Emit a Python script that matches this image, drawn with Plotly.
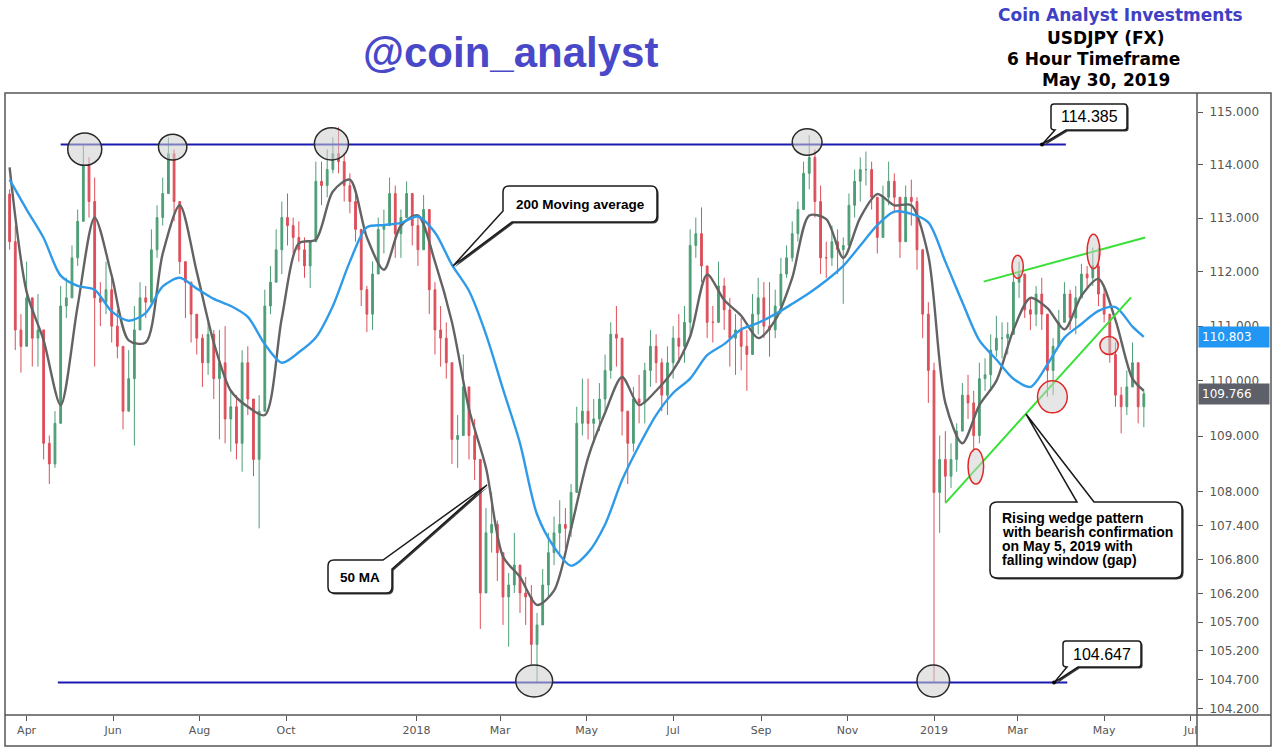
import math
import pandas as pd
import plotly.graph_objects as go

start_date = "2017-03-20"
bar_step = "4D"
first_open = 113.45

close = [
    112.56, 110.93, 110.63, 111.52, 110.78, 110.93, 108.87, 108.50, 109.23, 111.37,
    111.52, 112.26, 112.94, 113.99, 113.31, 111.52, 111.44, 111.67, 111.00, 110.63,
    109.45, 110.04, 110.93, 111.52, 111.44, 112.41, 113.01, 113.46, 114.21, 113.31,
    112.19, 111.81, 111.22, 110.78, 110.33, 110.85, 110.04, 110.33, 109.31, 109.53,
    108.87, 110.33, 109.67, 108.58, 109.45, 111.37, 111.81, 112.41, 113.01, 112.86,
    112.64, 112.41, 112.11, 112.56, 113.69, 113.61, 113.91, 114.21, 114.06, 113.61,
    113.31, 112.79, 111.67, 111.22, 111.96, 112.79, 112.86, 113.46, 112.71, 113.01,
    113.46, 112.86, 112.41, 113.16, 111.67, 110.93, 110.78, 110.33, 108.94, 109.01,
    109.89, 109.01, 108.58, 106.21, 107.27, 107.42, 106.92, 106.14, 106.35, 106.70,
    106.21, 106.14, 105.31, 105.65, 106.35, 106.92, 107.27, 107.42, 107.35, 107.99,
    109.23, 109.45, 109.23, 109.31, 109.67, 110.19, 110.85, 110.78, 109.45, 108.87,
    109.67, 109.60, 110.19, 110.63, 110.33, 109.74, 110.33, 110.78, 110.63, 111.07,
    112.49, 112.71, 112.11, 111.07, 111.07, 111.74, 111.30, 110.78, 110.93, 110.63,
    110.48, 111.22, 111.52, 111.00, 110.93, 111.37, 111.96, 112.26, 112.71, 113.16,
    113.84, 114.14, 113.31, 112.26, 112.26, 112.56, 112.41, 112.49, 113.24, 113.69,
    113.91, 113.91, 113.39, 112.64, 113.39, 113.69, 113.39, 112.56, 113.39, 113.31,
    112.41, 111.22, 110.19, 107.99, 108.58, 108.28, 108.58, 109.09, 109.74, 109.60,
    109.01, 110.04, 110.11, 110.56, 110.78, 110.78, 110.85, 111.81, 111.96, 111.30,
    111.22, 111.59, 111.22, 110.19, 110.63, 111.07, 111.59, 111.15, 111.52, 111.96,
    111.89, 112.11, 111.59, 111.22, 110.48, 109.74, 109.53, 109.89, 110.33, 109.53,
    109.766,
]

high = [
    113.54, 112.86, 111.22, 112.19, 111.37, 111.59, 110.26, 109.01, 109.45, 111.74,
    111.89, 112.49, 113.16, 114.37, 114.14, 113.76, 111.81, 112.19, 111.89, 111.30,
    110.48, 110.56, 111.37, 111.81, 111.74, 112.79, 113.24, 113.76, 114.52, 114.29,
    112.94, 112.19, 111.59, 111.22, 110.85, 111.07, 110.93, 110.93, 111.00, 109.82,
    109.74, 110.56, 110.63, 109.45, 109.74, 111.67, 112.11, 112.79, 113.31, 113.46,
    113.01, 112.94, 112.64, 112.56, 114.06, 114.06, 114.29, 114.52, 114.71, 114.21,
    113.84, 113.46, 112.64, 111.74, 112.19, 113.01, 113.16, 113.76, 113.61, 113.16,
    113.69, 113.39, 113.01, 113.43, 113.16, 111.81, 111.37, 111.07, 109.60, 109.38,
    110.48, 109.89, 109.31, 108.28, 107.71, 107.99, 107.49, 106.92, 106.56, 107.27,
    106.70, 106.49, 106.35, 105.86, 106.63, 107.27, 107.56, 107.85, 107.71, 108.14,
    109.53, 110.04, 110.04, 109.67, 109.96, 110.48, 111.07, 111.37, 110.78, 109.45,
    109.89, 110.11, 110.33, 110.93, 110.85, 110.41, 110.63, 111.00, 111.22, 111.37,
    112.79, 113.01, 113.20, 111.81, 111.37, 112.19, 111.89, 111.52, 111.22, 111.15,
    110.93, 111.59, 111.89, 111.81, 111.81, 111.67, 112.26, 112.49, 112.94, 113.31,
    114.06, 114.56, 114.29, 113.61, 112.56, 112.86, 112.79, 112.64, 113.46, 113.91,
    114.14, 114.25, 114.06, 113.24, 113.61, 114.06, 113.84, 113.24, 113.61, 113.72,
    113.39, 112.41, 111.44, 110.33, 109.01, 109.09, 108.87, 109.23, 109.96, 110.11,
    109.82, 110.33, 110.41, 110.85, 111.19, 111.07, 111.07, 112.04, 112.19, 111.96,
    111.52, 111.74, 111.89, 111.00, 110.78, 111.30, 111.81, 111.67, 111.74, 112.15,
    112.11, 112.45, 112.45, 111.74, 111.22, 110.70, 109.89, 110.19, 110.70, 110.19,
    109.82,
]

low = [
    112.41, 110.56, 110.15, 110.93, 110.26, 110.26, 108.58, 108.14, 108.43, 109.67,
    111.15, 111.52, 112.11, 113.46, 113.01, 110.26, 111.00, 111.22, 110.70, 110.41,
    109.12, 109.45, 108.83, 111.07, 111.15, 111.44, 112.26, 112.86, 113.46, 112.94,
    111.96, 111.15, 110.70, 110.48, 109.89, 110.11, 109.67, 108.94, 108.87, 108.72,
    108.58, 108.36, 109.38, 108.28, 107.35, 110.04, 111.22, 111.89, 111.96, 112.49,
    112.34, 112.19, 111.89, 111.70, 112.56, 113.24, 113.39, 113.84, 113.84, 113.31,
    113.09, 112.56, 111.37, 110.89, 110.93, 111.96, 112.34, 112.94, 112.26, 112.26,
    113.16, 112.49, 112.11, 112.71, 111.22, 110.48, 110.26, 110.04, 108.50, 108.43,
    109.45, 108.58, 108.21, 105.58, 106.28, 106.92, 106.42, 105.65, 105.27, 106.21,
    105.86, 105.65, 104.96, 104.647, 105.72, 106.14, 106.70, 106.85, 106.99, 107.20,
    107.99, 109.01, 108.94, 108.87, 109.09, 109.45, 110.04, 110.26, 109.01, 108.14,
    108.72, 109.23, 109.23, 109.89, 109.96, 109.45, 109.38, 110.04, 110.33, 110.33,
    110.78, 112.26, 111.81, 110.78, 110.70, 111.07, 110.93, 110.26, 110.11, 110.19,
    109.82, 110.63, 110.85, 110.78, 110.44, 110.78, 111.22, 111.89, 112.19, 112.56,
    113.31, 113.54, 113.01, 111.96, 111.89, 112.11, 111.96, 111.41, 112.49, 113.01,
    113.31, 113.61, 113.16, 112.34, 112.64, 113.24, 113.09, 112.26, 112.71, 112.86,
    112.04, 110.78, 109.60, 104.647, 107.27, 107.81, 108.07, 108.36, 109.23, 109.31,
    108.72, 108.87, 109.82, 109.82, 110.44, 110.41, 110.48, 111.00, 111.52, 111.15,
    110.93, 111.00, 110.93, 109.71, 109.74, 110.63, 111.07, 110.93, 110.85, 111.74,
    111.70, 111.74, 111.37, 111.07, 110.33, 109.53, 109.05, 109.38, 109.89, 109.23,
    109.16,
]

# moving averages read every 3rd bar (plus the last bar)
ma_every = 3
ma50 = [
    113.95, 111.63, 110.74, 109.56, 111.37, 113.01, 111.93, 110.74, 110.70, 112.34,
    113.24, 112.00, 110.70, 109.82, 109.53, 109.38, 111.15, 112.53, 112.60, 113.50,
    113.72, 112.64, 112.04, 112.86, 113.05, 112.19, 111.07, 109.49, 108.43, 106.85,
    106.49, 106.00, 106.25, 107.35, 108.61, 109.42, 110.07, 109.56, 109.82, 110.19,
    110.81, 111.95, 111.48, 111.19, 110.78, 111.11, 111.89, 113.05, 112.98, 112.26,
    113.01, 113.45, 113.24, 113.24, 112.30, 109.60, 108.87, 109.56, 110.00, 110.93,
    111.52, 111.33, 110.94, 111.56, 111.87, 111.11, 110.04, 109.82,
]
ma200 = [
    113.72, 113.16, 112.63, 111.93, 111.74, 111.67, 111.27, 111.10, 111.24, 111.73,
    111.89, 111.69, 111.50, 111.37, 111.17, 110.67, 110.33, 110.52, 110.79, 111.37,
    112.19, 112.83, 112.87, 112.91, 113.03, 112.73, 112.13, 111.65, 110.85, 109.85,
    108.87, 107.60, 107.02, 106.69, 106.92, 107.42, 108.21, 108.83, 109.38, 109.78,
    110.04, 110.47, 110.67, 110.94, 111.06, 111.22, 111.41, 111.61, 111.84, 112.11,
    112.49, 112.87, 113.12, 113.08, 112.92, 112.19, 111.44, 110.74, 110.39, 110.04,
    109.89, 110.30, 110.79, 111.04, 111.28, 111.35, 110.99, 110.803,
]

y_tick_values = [104.2, 104.7, 105.2, 105.7, 106.2, 106.8, 107.4, 108.0,
                 109.0, 110.0, 111.0, 112.0, 113.0, 114.0, 115.0]
x_tick_dates = ["2017-04-01", "2017-06-01", "2017-08-01", "2017-10-01", "2018-01-01",
                "2018-03-01", "2018-05-01", "2018-07-01", "2018-09-01", "2018-11-01",
                "2019-01-01", "2019-03-01", "2019-05-01", "2019-07-01"]
x_tick_text = ["Apr", "Jun", "Aug", "Oct", "2018", "Mar", "May", "Jul", "Sep", "Nov",
               "2019", "Mar", "May", "Jul"]

resistance = 114.385
support = 104.647

# ---------------- derived series ----------------
assert len(close) == len(high) == len(low)
dates = pd.date_range(start_date, periods=len(close), freq=bar_step)
opens = [first_open] + close[:-1]
highs = [max(h, o, c) for h, o, c in zip(high, opens, close)]
lows = [min(l, o, c) for l, o, c in zip(low, opens, close)]
ma_idx = list(range(0, len(close), ma_every))
if ma_idx[-1] != len(close) - 1:
    ma_idx.append(len(close) - 1)
assert len(ma_idx) == len(ma50) == len(ma200)
ma_dates = [dates[i] for i in ma_idx]

# ---------------- geometry helpers ----------------
W, H = 1274, 750
PL, PR, PT, PB = 5, 1197, 93, 715
X_RANGE = ["2017-03-16 18:00", "2019-07-05 12:00"]
Y_RANGE = [2.017401, 2.062062]


def px(x):
    return (x - PL) / (PR - PL)


def py(y):
    return (PB - y) / (PB - PT)


def price_y(p):
    return PT + (Y_RANGE[1] - math.log10(p)) / (Y_RANGE[1] - Y_RANGE[0]) * (PB - PT)


def path_str(cmds, dx=0.0, dy=0.0):
    out = []
    for c in cmds:
        if c[0] == "Z":
            out.append("Z")
        elif c[0] == "Q":
            out.append("Q%.5f,%.5f %.5f,%.5f" % (px(c[1] + dx), py(c[2] + dy),
                                                 px(c[3] + dx), py(c[4] + dy)))
        else:
            out.append("%s%.5f,%.5f" % (c[0], px(c[1] + dx), py(c[2] + dy)))
    return " ".join(out)


def callout_shapes(cmds):
    return [
        dict(type="path", xref="paper", yref="paper", path=path_str(cmds, 1.6, 1.6),
             fillcolor="#3a3a3a", line=dict(width=0), layer="above"),
        dict(type="path", xref="paper", yref="paper", path=path_str(cmds),
             fillcolor="white", line=dict(color="#1a1a1a", width=1.5), layer="above"),
    ]


# ---------------- traces ----------------
fig = go.Figure()
fig.add_trace(go.Candlestick(
    x=dates, open=opens, high=highs, low=lows, close=close,
    increasing=dict(line=dict(color="#4e9e76", width=1), fillcolor="#4e9e76"),
    decreasing=dict(line=dict(color="#dc4f5a", width=1), fillcolor="#dc4f5a"),
    whiskerwidth=0, showlegend=False, hoverinfo="skip",
))
fig.add_trace(go.Scatter(x=ma_dates, y=ma50, mode="lines", showlegend=False,
                         line=dict(color="#636363", width=2.4, shape="spline", smoothing=0.8)))
fig.add_trace(go.Scatter(x=ma_dates, y=ma200, mode="lines", showlegend=False,
                         line=dict(color="#2f9be8", width=2.4, shape="spline", smoothing=0.8)))

# ---------------- shapes ----------------
shapes = []
# support / resistance
shapes.append(dict(type="line", xref="x", yref="y", x0="2017-04-25", x1="2019-04-04",
                   y0=resistance, y1=resistance, line=dict(color="#1a1ab0", width=2)))
shapes.append(dict(type="line", xref="x", yref="y", x0="2017-04-23", x1="2019-04-05",
                   y0=support, y1=support, line=dict(color="#1a1ab0", width=2)))
# grey ellipses on touches
grey_ellipses = [
    ("2017-04-30", "2017-05-24", 113.99, 114.60),
    ("2017-07-03", "2017-07-23", 114.09, 114.58),
    ("2017-10-21", "2017-11-14", 114.09, 114.70),
    ("2018-09-23", "2018-10-14", 114.18, 114.68),
    ("2018-03-12", "2018-04-07", 104.40, 104.95),
    ("2018-12-20", "2019-01-12", 104.40, 104.95),
]
for x0, x1, y0, y1 in grey_ellipses:
    shapes.append(dict(type="circle", xref="x", yref="y", x0=x0, x1=x1, y0=y0, y1=y1,
                       fillcolor="rgba(205,205,205,0.55)", line=dict(color="#2a2a2a", width=1.5)))
# wedge lines
shapes.append(dict(type="line", xref="x", yref="y", x0="2019-02-05", x1="2019-05-30",
                   y0=111.82, y1=112.64, line=dict(color="#38e038", width=2)))
shapes.append(dict(type="line", xref="x", yref="y", x0="2019-01-09", x1="2019-05-20",
                   y0=107.80, y1=111.53, line=dict(color="#38e038", width=2)))
red_ellipses = [
    ("2019-01-25", "2019-02-05", 108.14, 108.77),
    ("2019-02-25", "2019-03-05", 111.88, 112.31),
    ("2019-03-15", "2019-04-05", 109.42, 110.00),
    ("2019-04-19", "2019-04-28", 112.06, 112.70),
    ("2019-04-28", "2019-05-11", 110.48, 110.81),
]
for x0, x1, y0, y1 in red_ellipses:
    shapes.append(dict(type="circle", xref="x", yref="y", x0=x0, x1=x1, y0=y0, y1=y1,
                       fillcolor="rgba(205,205,205,0.5)", line=dict(color="#e02828", width=1.5)))

# callouts (pixel layout converted to paper)
ty_top = price_y(resistance)
ty_bot = price_y(support)
callouts = [
    [("M", 509, 186), ("L", 651, 186), ("Q", 657, 186, 657, 192), ("L", 657, 216),
     ("Q", 657, 222, 651, 222), ("L", 512, 222), ("L", 453, 266), ("L", 503, 211),
     ("L", 503, 192), ("Q", 503, 186, 509, 186), ("Z",)],
    [("M", 334, 560), ("L", 383, 560), ("L", 487, 485), ("L", 392, 569), ("L", 392, 587),
     ("Q", 392, 593, 386, 593), ("L", 334, 593), ("Q", 328, 593, 328, 587), ("L", 328, 566),
     ("Q", 328, 560, 334, 560), ("Z",)],
    [("M", 997, 502), ("L", 1077, 502), ("L", 1026, 414), ("L", 1094, 502), ("L", 1175, 502),
     ("Q", 1182, 502, 1182, 509), ("L", 1182, 571), ("Q", 1182, 578, 1175, 578),
     ("L", 997, 578), ("Q", 990, 578, 990, 571), ("L", 990, 509), ("Q", 990, 502, 997, 502),
     ("Z",)],
    [("M", 1054, 104), ("L", 1124, 104), ("Q", 1127, 104, 1127, 107), ("L", 1127, 127),
     ("Q", 1127, 130, 1124, 130), ("L", 1066, 130), ("L", 1042, ty_top), ("L", 1055, 130),
     ("Q", 1051, 130, 1051, 127), ("L", 1051, 107), ("Q", 1051, 104, 1054, 104), ("Z",)],
    [("M", 1066, 641), ("L", 1138, 641), ("Q", 1141, 641, 1141, 644), ("L", 1141, 664),
     ("Q", 1141, 667, 1138, 667), ("L", 1078, 667), ("L", 1054, ty_bot), ("L", 1067, 667),
     ("Q", 1063, 667, 1063, 664), ("L", 1063, 644), ("Q", 1063, 641, 1066, 641), ("Z",)],
]
for c in callouts:
    shapes.extend(callout_shapes(c))
for tx, tyy in [(1042, ty_top), (1054, ty_bot)]:
    shapes.append(dict(type="circle", xref="paper", yref="paper",
                       x0=px(tx - 2), x1=px(tx + 2), y0=py(tyy + 2), y1=py(tyy - 2),
                       fillcolor="black", line=dict(width=0)))

# frame
frame_col = "#555555"
shapes.append(dict(type="rect", xref="paper", yref="paper", x0=px(5), x1=px(1271),
                   y0=py(746), y1=py(93), line=dict(color=frame_col, width=1.5)))
shapes.append(dict(type="line", xref="paper", yref="paper", x0=px(1197), x1=px(1197),
                   y0=py(746), y1=py(93), line=dict(color=frame_col, width=1.5)))
shapes.append(dict(type="line", xref="paper", yref="paper", x0=px(5), x1=px(1271),
                   y0=py(715), y1=py(715), line=dict(color=frame_col, width=1.5)))

# ---------------- annotations ----------------
ann = []


def text(x, y, s, size, color="black", family="Liberation Sans", xanchor="center", bold=True):
    ann.append(dict(xref="paper", yref="paper", x=px(x), y=py(y), text=("<b>%s</b>" % s) if bold else s,
                    showarrow=False, xanchor=xanchor, yanchor="middle",
                    font=dict(size=size, color=color, family=family)))


text(510, 53, "@coin_analyst", 42, "#4848c8")
text(1120, 15, "Coin Analyst Investments", 17, "#4040c4", "DejaVu Sans")
text(1105, 38, "USDJPY (FX)", 17, "black", "DejaVu Sans")
text(1093, 59, "6 Hour Timeframe", 17, "black", "DejaVu Sans")
text(1106, 80, "May 30, 2019", 17, "black", "DejaVu Sans")

text(580, 204, "200 Moving average", 13.5)
text(360, 577, "50 MA", 13.5)
for k, line in enumerate(["Rising wedge pattern", "with bearish confirmation",
                          "on May 5, 2019 with", "falling window (gap)"]):
    text(1000, 518 + 14 * k, line, 14, xanchor="left")
text(1089, 117, "114.385", 16, bold=False)
text(1102, 654, "104.647", 16, bold=False)

# price labels on the axis
for val, bg in [(ma200[-1], "#2196f3"), (close[-1], "#5d6068")]:
    ann.append(dict(xref="paper", yref="y", x=1.0, y=math.log10(val), xanchor="left",
                    yanchor="middle", text="%.3f" % val, showarrow=False, bgcolor=bg,
                    width=64, align="left", borderpad=3, xshift=1,
                    font=dict(size=12, color="white", family="DejaVu Sans")))

fig.update_layout(
    width=W, height=H,
    margin=dict(l=PL, r=W - PR, t=PT, b=H - PB),
    paper_bgcolor="white", plot_bgcolor="white",
    showlegend=False, hovermode=False, boxgap=0.55,
    shapes=shapes, annotations=ann,
    xaxis=dict(type="date", range=X_RANGE, rangeslider=dict(visible=False),
               tickvals=x_tick_dates, ticktext=x_tick_text, ticks="outside", ticklen=5,
               tickcolor=frame_col, showgrid=False, zeroline=False, showline=False,
               tickfont=dict(family="DejaVu Sans", size=11, color="#555555")),
    yaxis=dict(type="log", range=Y_RANGE, side="right",
               tickvals=y_tick_values, ticktext=["%.3f" % v for v in y_tick_values],
               ticks="outside", ticklen=5, tickcolor=frame_col, showgrid=False,
               zeroline=False, showline=False, ticklabelstandoff=4,
               tickfont=dict(family="DejaVu Sans", size=12, color="#555555")),
)

fig.write_html("out.html")
